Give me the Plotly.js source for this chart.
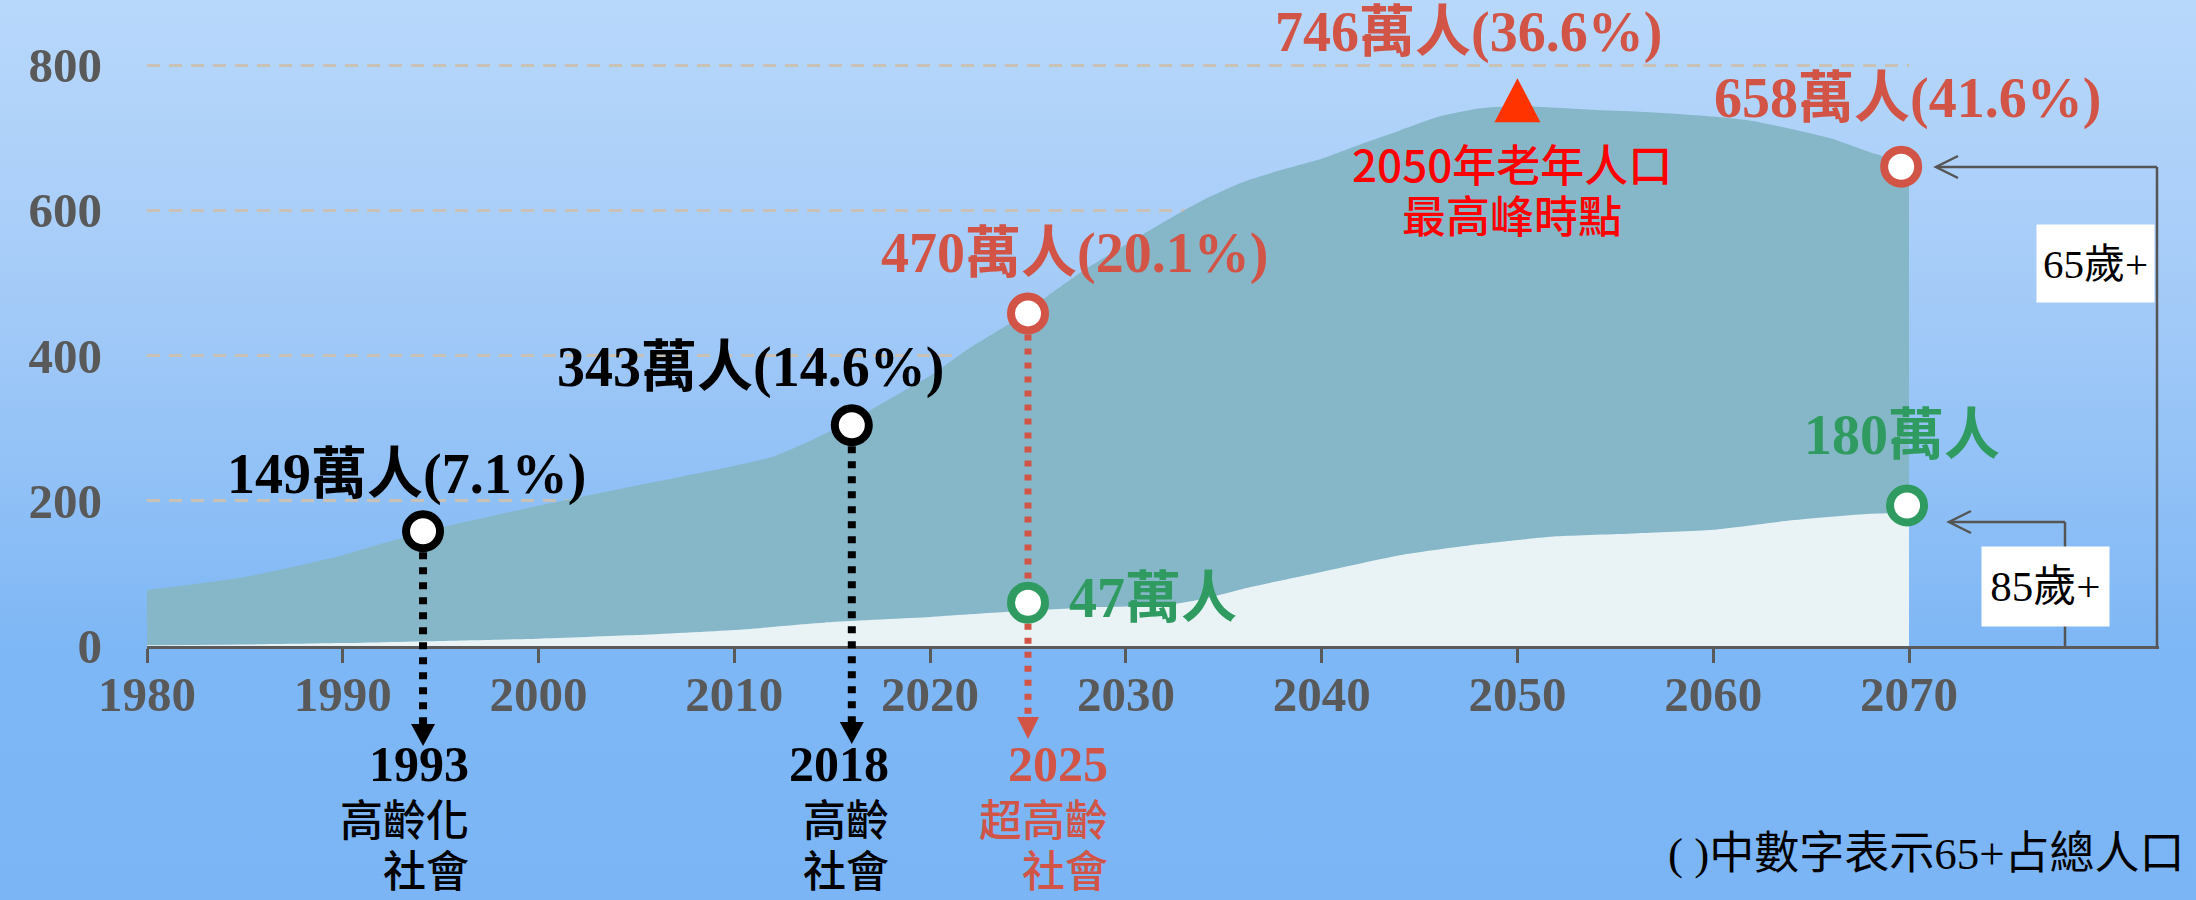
<!DOCTYPE html>
<html>
<head>
<meta charset="utf-8">
<script src="https://cdn.plot.ly/plotly-3.0.1.min.js"></script>
<style>
html,body{margin:0;padding:0;}
#chart{width:2196px;height:900px;background:linear-gradient(to bottom,#b8d8fb 0%,#a6ccf8 30%,#8fc0f6 55%,#7eb7f5 72%,#7bb5f5 100%);}
</style>
</head>
<body>
<div id="chart"></div>
<script>
// ---------------- data (萬人) ----------------
const years65 = [1980,1985,1990,1992,1995,2000,2005,2010,2012,2014,2016,2018,2020,2022,2024,2026,2028,2030,2032,2034,2036,2038,2040,2042,2044,2046,2048,2050,2052,2054,2056,2058,2060,2062,2064,2066,2068,2070];
const pop65 = [77,95,125,141,163,193,221,248,261,284,310,341,372,410,443,482,520,553,585,615,639,656,671,691,710,729,740,744,741,738,736,733,729,723,712,699,680,664];
const years85 = [1980,1985,1990,1995,2000,2005,2010,2015,2020,2024,2028,2032,2034,2036,2040,2044,2048,2052,2056,2060,2064,2068,2070];
const pop85 = [1,2,4,7,10,15,22,33,40,47,53,56,65,79,102,125,140,151,155,160,173,182,183];

const milestoneX = [1994.1, 2016.0, 2025.0, 2069.6];
const milestoneY = [158, 304, 458, 660];
const milestoneLabels = ['149萬人(7.1%)','343萬人(14.6%)','470萬人(20.1%)','658萬人(41.6%)'];
const old85X = [2025.0, 2069.9];
const old85Y = [59.6, 193.5];
const old85Labels = ['47萬人','180萬人'];
const peakYear = 2050, peakValue = 746;
const peakLabel = '746萬人(36.6%)';
const peakNote = ['2050年老年人口','最高峰時點'];
const stageYears = ['1993','2018','2025'];
const stageNames = [['高齡化','社會'],['高齡','社會'],['超高齡','社會']];
const xTicks = [1980,1990,2000,2010,2020,2030,2040,2050,2060,2070];
const yTicks = [0,200,400,600,800];

// ---------------- layout geometry ----------------
const W=2196, H=900, L=147, R=287, T=20, B=254;
const plotW = W-L-R, plotH = H-T-B;
const xMin=1980, xMax=2070, yTop=862;
const pxX = px => xMin + (px-L)/plotW*(xMax-xMin);
const pyY = py => (H-B-py)/plotH*yTop;
const ppX = px => (px-L)/plotW;
const ppY = py => (H-B-py)/plotH;
const yrPerPx = (xMax-xMin)/plotW;
const rPx = 21;

const SERIF = "Liberation Serif, 'Times New Roman', 'Noto Sans CJK TC', serif";
const SANS = "'Noto Sans CJK TC', 'Noto Sans', sans-serif";
const RED = '#d15446', GREEN = '#2f9b60', BLACK = '#000000', GREY='#595959', BR='#555555';

// ---------------- traces ----------------
const traces = [
  {x: years65, y: pop65, type:'scatter', mode:'lines', fill:'tozeroy', fillcolor:'#86b7c9',
   line:{width:0, shape:'spline', smoothing:0.5}, hoverinfo:'skip'},
  {x: years85, y: pop85, type:'scatter', mode:'lines', fill:'tozeroy', fillcolor:'#e9f3f6',
   line:{width:0, shape:'spline', smoothing:0.5}, hoverinfo:'skip'},
  {x: milestoneX, y: milestoneY, type:'scatter', mode:'markers', cliponaxis:false,
   marker:{size:34, color:'#ffffff', line:{width:8, color:[BLACK,BLACK,RED,RED]}}, hoverinfo:'skip'},
  {x: old85X, y: old85Y, type:'scatter', mode:'markers', cliponaxis:false,
   marker:{size:34, color:'#ffffff', line:{width:8, color:GREEN}}, hoverinfo:'skip'}
];

// ---------------- shapes ----------------
const shapes = [];
function vdots(x, y0, y1, color, width, dash){
  shapes.push({type:'line', xref:'x', yref:'paper', x0:x, x1:x, y0:y0, y1:y1, layer:'above',
    line:{color:color, width:width, dash:dash}});
}
function arrowHead(x, topPy, tipPy, halfPx, color){
  const hw = halfPx*yrPerPx;
  shapes.push({type:'path', xref:'x', yref:'paper', layer:'above', fillcolor:color, line:{width:0, color:color},
    path:`M${x-hw},${ppY(topPy)} L${x+hw},${ppY(topPy)} L${x},${ppY(tipPy)} Z`});
}
const mBot = i => milestoneY[i]/yTop - rPx/plotH;
vdots(milestoneX[0], mBot(0), ppY(726), BLACK, 8, '7px,8px');
arrowHead(milestoneX[0], 724, 746, 12, BLACK);
vdots(milestoneX[1], mBot(1), ppY(726), BLACK, 8, '7px,8px');
arrowHead(milestoneX[1], 722, 744, 12, BLACK);
vdots(milestoneX[2], mBot(2), old85Y[0]/yTop + rPx/plotH, RED, 7, '6px,8px');
vdots(milestoneX[2], old85Y[0]/yTop - rPx/plotH, ppY(719), RED, 7, '6px,8px');
arrowHead(milestoneX[2], 717, 739, 11, RED);

// peak triangle
const peakPy = H-B - peakValue/yTop*plotH;
const thw = 23*yrPerPx;
shapes.push({type:'path', xref:'x', yref:'y', layer:'above', fillcolor:'#ff3300', line:{width:0, color:'#ff3300'},
  path:`M${peakYear-thw},${pyY(peakPy+18)} L${peakYear+thw},${pyY(peakPy+18)} L${peakYear},${pyY(peakPy-26)} Z`});

// axis extension and brackets
function pline(x0,y0,x1,y1,w,c){
  shapes.push({type:'line', xref:'paper', yref:'paper', x0:ppX(x0), y0:ppY(y0), x1:ppX(x1), y1:ppY(y1), layer:'above',
    line:{color:c, width:w}});
}
function chevron(tipX, tipY, len, half, w, c){
  shapes.push({type:'path', xref:'paper', yref:'paper', layer:'above', line:{color:c, width:w},
    path:`M${ppX(tipX+len)},${ppY(tipY-half)} L${ppX(tipX)},${ppY(tipY)} L${ppX(tipX+len)},${ppY(tipY+half)}`});
}
pline(1909, 647.5, 2159, 647.5, 3, '#5a5a5a');
pline(1937, 167, 2157, 167, 2.5, BR);
pline(2157, 167, 2157, 646, 2.5, BR);
chevron(1936, 167, 22, 11, 2.5, BR);
pline(1950, 522, 2065, 522, 2.5, BR);
pline(2065, 522, 2065, 646, 2.5, BR);
chevron(1949, 522, 22, 11, 2.5, BR);

// ---------------- annotations ----------------
const ann = [];
function lab(text, x, y, opt){
  ann.push(Object.assign({text:text, x:x, y:y, xref:'x', yref:'y', showarrow:false,
    xanchor:'center', yanchor:'middle'}, opt));
}
const bigFont = c => ({family:SERIF, size:56, color:c, weight:'bold'});
lab(milestoneLabels[0], pxX(406), pyY(474), {font:bigFont(BLACK)});
lab(milestoneLabels[1], pxX(750), pyY(367), {font:bigFont(BLACK)});
lab(milestoneLabels[2], pxX(1074), pyY(253), {font:bigFont(RED)});
lab(milestoneLabels[3], pxX(1907), pyY(98), {font:bigFont(RED)});
lab(peakLabel, pxX(1468), pyY(32), {font:bigFont(RED)});
lab(old85Labels[0], pxX(1067), pyY(598), {font:bigFont(GREEN), xanchor:'left'});
lab(old85Labels[1], pxX(1902), pyY(435), {font:bigFont(GREEN)});
lab(peakNote[0], pxX(1512), pyY(163), {font:{family:SANS, size:44, color:'#ff0000', weight:500}});
lab(peakNote[1], pxX(1512), pyY(214), {font:{family:SANS, size:44, color:'#ff0000', weight:500}});

// stage labels under the axis
const stageRight = [471, 891, 1110];
const stageColor = [BLACK, BLACK, RED];
for (let i=0;i<3;i++){
  const x = pxX(stageRight[i]);
  ann.push({text:stageYears[i], x:x, y:ppY(764), xref:'x', yref:'paper', showarrow:false, xanchor:'right', yanchor:'middle',
    font:{family:SERIF, size:50, color:stageColor[i], weight:'bold'}});
  ann.push({text:stageNames[i][0], x:x, y:ppY(817), xref:'x', yref:'paper', showarrow:false, xanchor:'right', yanchor:'middle',
    font:{family:SANS, size:43, color:stageColor[i], weight:500}});
  ann.push({text:stageNames[i][1], x:x, y:ppY(868), xref:'x', yref:'paper', showarrow:false, xanchor:'right', yanchor:'middle',
    font:{family:SANS, size:43, color:stageColor[i], weight:500}});
}
// footnote
ann.push({text:'( )中數字表示65+占總人口', x:ppX(2187), y:ppY(854), xref:'paper', yref:'paper', showarrow:false,
  xanchor:'right', yanchor:'middle', font:{family:SERIF, size:45, color:BLACK}});
// bracket boxes
ann.push({text:'65歲+', x:ppX(2095.5), y:ppY(263.5), xref:'paper', yref:'paper', showarrow:false,
  xanchor:'center', yanchor:'middle', width:117, height:77, borderpad:0, bgcolor:'#ffffff',
  font:{family:SERIF, size:41, color:BLACK}});
ann.push({text:'85歲+', x:ppX(2045.5), y:ppY(586.5), xref:'paper', yref:'paper', showarrow:false,
  xanchor:'center', yanchor:'middle', width:127, height:79, borderpad:0, bgcolor:'#ffffff',
  font:{family:SERIF, size:43, color:BLACK}});

const layout = {
  width:W, height:H,
  margin:{l:L, r:R, t:T, b:B, pad:0},
  paper_bgcolor:'rgba(0,0,0,0)', plot_bgcolor:'rgba(0,0,0,0)',
  showlegend:false, hovermode:false,
  font:{family:SERIF},
  xaxis:{range:[xMin,xMax], tickvals:xTicks, ticktext:xTicks.map(String), ticks:'outside', ticklen:14, tickwidth:3,
    tickcolor:'#5a5a5a', showline:true, linecolor:'#5a5a5a', linewidth:3, showgrid:false, zeroline:false,
    ticklabelstandoff:-11, tickfont:{family:SERIF, size:49, color:GREY, weight:'bold'}, fixedrange:true},
  yaxis:{range:[0,yTop], tickvals:yTicks, ticktext:yTicks.map(String), ticks:'', showline:false, zeroline:false,
    showgrid:true, gridcolor:'#c9c1b5', gridwidth:3, griddash:'13px,9px',
    ticklabelstandoff:44, tickfont:{family:SERIF, size:49, color:GREY, weight:'bold'}, fixedrange:true},
  shapes:shapes,
  annotations:ann
};
Plotly.newPlot('chart', traces, layout, {displayModeBar:false, staticPlot:true});
</script>
</body>
</html>
